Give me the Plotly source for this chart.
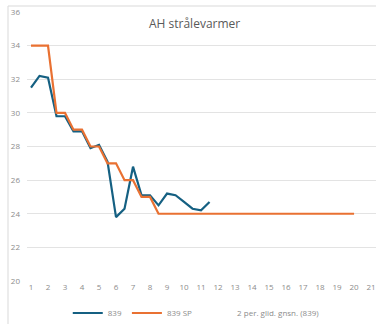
import plotly.graph_objects as go

# Data
x_839 = [1, 1.5, 2, 2.5, 3, 3.5, 4, 4.5, 5, 5.5, 6, 6.5, 7, 7.5, 8, 8.5, 9, 9.5, 10, 10.5, 11, 11.5]
y_839 = [31.5, 32.2, 32.1, 29.8, 29.8, 28.9, 28.9, 27.9, 28.1, 27.1, 23.8, 24.3, 26.8, 25.1, 25.1, 24.5, 25.2, 25.1, 24.7, 24.3, 24.2, 24.7]

x_sp = [1, 1.5, 2, 2.5, 3, 3.5, 4, 4.5, 5, 5.5, 6, 6.5, 7, 7.5, 8, 8.5, 9, 9.5, 10, 10.5,
        11, 11.5, 12, 12.5, 13, 13.5, 14, 14.5, 15, 15.5, 16, 16.5, 17, 17.5, 18, 18.5, 19, 19.5, 20]
y_sp = [34, 34, 34, 30, 30, 29, 29, 28, 28, 27, 27, 26, 26, 25, 25, 24, 24, 24, 24, 24,
        24, 24, 24, 24, 24, 24, 24, 24, 24, 24, 24, 24, 24, 24, 24, 24, 24, 24, 24]

x_ticks = list(range(1, 22))
y_ticks = [20, 22, 24, 26, 28, 30, 32, 34, 36]

title = "AH strålevarmer"
names = ["839", "839 SP", "2 per. glid. gnsn. (839)"]

FONT = "Open Sans"
fig = go.Figure()
fig.add_trace(go.Scatter(x=x_839, y=y_839, mode="lines", name=names[0],
                         line=dict(color="#156082", width=2.2)))
fig.add_trace(go.Scatter(x=x_sp, y=y_sp, mode="lines", name=names[1],
                         line=dict(color="#E97132", width=2.2)))
fig.add_trace(go.Scatter(x=[None], y=[None], mode="lines", name=names[2],
                         line=dict(color="rgba(0,0,0,0)", width=2)))

fig.update_layout(
    width=376, height=324, autosize=False,
    margin=dict(l=27, r=0, t=12, b=43, autoexpand=False),
    paper_bgcolor="white", plot_bgcolor="white",
    font=dict(family=FONT, size=8, color="#8c8c8c"),
    showlegend=True,
    legend=dict(orientation="h", x=0.485, xanchor="center", y=-0.119, yanchor="middle",
                font=dict(size=8, color="#8c8c8c"), itemwidth=30,
                bgcolor="rgba(0,0,0,0)"),
    xaxis=dict(range=[0.765, 21.29], tickvals=x_ticks, showgrid=False, zeroline=False,
               showline=False, ticks="", automargin=False,
               tickfont=dict(size=8, color="#8c8c8c"), fixedrange=True),
    yaxis=dict(range=[20, 36], tickvals=y_ticks, showgrid=True, gridcolor="#e3e3e3", gridwidth=1,
               zeroline=False, showline=False, ticks="", ticklabelstandoff=6, automargin=False,
               tickfont=dict(size=8, color="#8c8c8c"), fixedrange=True),
    annotations=[dict(text=title, xref="paper", yref="paper", x=0.481, y=0.959,
                      xanchor="center", yanchor="middle", showarrow=False,
                      font=dict(family=FONT, size=12, color="#595959"))],
    shapes=[dict(type="rect", xref="paper", yref="paper", x0=-0.0544, x1=1.2, y0=-0.5, y1=1.0223,
                 line=dict(color="#d9d9d9", width=1), layer="below")],
)

fig.write_html("out.html", config={"displayModeBar": False},
               post_script="document.body.style.margin='0';document.body.style.overflow='hidden';")
